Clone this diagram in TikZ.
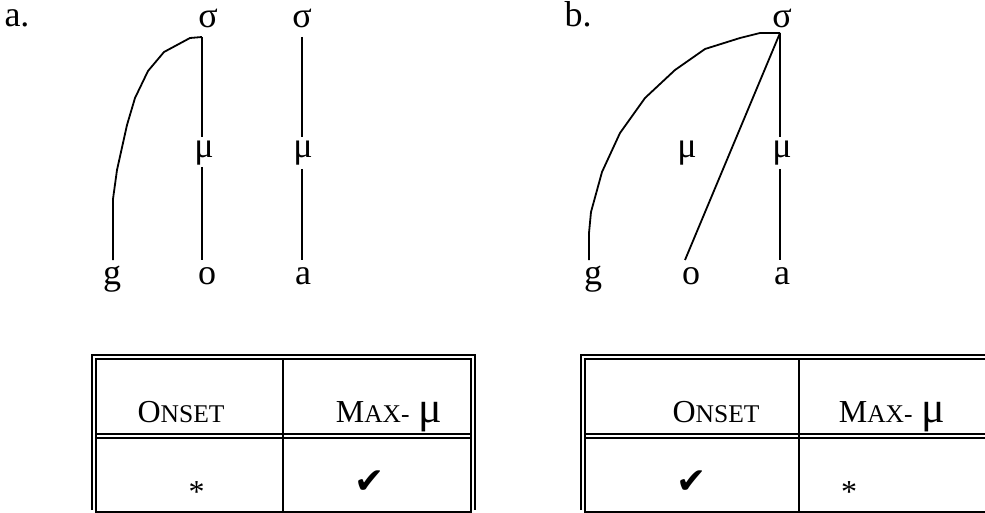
\documentclass[tikz,border=0pt]{standalone}
\usepackage{fontspec}
\setmainfont{Liberation Serif}
\newfontfamily\symfont{DejaVu Sans}
\newcommand\szTree{\fontsize{36}{42}\selectfont}
\newcommand\szMu{\fontsize{36}{42}\selectfont}
\newcommand\szCap{\fontsize{32}{38}\selectfont}
\newcommand\szSc{\fontsize{25.5}{30}\selectfont}
\newcommand\szTmu{\fontsize{44}{50}\selectfont}
\newcommand\mysc[2]{{\szCap #1\szSc #2}}
\begin{document}
\begin{tikzpicture}[x=1pt,y=-1pt,
  seg/.style={line width=1.8pt,line join=round},
  rule/.style={line width=1.9pt},
  tlab/.style={anchor=base,inner sep=0pt,font=\szTree},
  mlab/.style={anchor=base,inner sep=0pt,font=\szMu},
  cell/.style={anchor=base,inner sep=0pt},
  chk/.style={anchor=base,inner sep=0pt,font=\symfont\fontsize{36}{42}\selectfont}]
\useasboundingbox (0,0) rectangle (985,513);

% ---------- tree a ----------
\node[tlab] (la) at (17,27) {a.};
\node[tlab] (sA1) at (208,28) {σ};
\node[tlab] (sA2) at (302,28) {σ};
\node[mlab] (mA1) at (204,158) {μ};
\node[mlab] (mA2) at (303,158) {μ};
\node[tlab] (gA) at (112,284) {g};
\node[tlab] (oA) at (207,284) {o};
\node[tlab] (aA) at (303,284) {a};

\coordinate (sA1b) at (202,37);
\coordinate (mA1t) at (202,137);
\coordinate (mA1b) at (202,167);
\coordinate (oAt) at (202,260);
\coordinate (sA2b) at (302,37);
\coordinate (mA2t) at (302,137);
\coordinate (mA2b) at (302,169);
\coordinate (aAt) at (302,260);
\coordinate (gAt) at (113,260);

\draw[seg] (sA1b) -- (mA1t);
\draw[seg] (mA1b) -- (oAt);
\draw[seg] (sA2b) -- (mA2t);
\draw[seg] (mA2b) -- (aAt);
\draw[seg] (gAt) -- (113,199) -- (117,170) -- (127,125) -- (135,98) -- (148,71)
  -- (164,52) -- (190,38) -- (sA1b);

% ---------- tree b ----------
\node[tlab] (lb) at (578,27) {b.};
\node[tlab] (sB) at (782,28) {σ};
\node[mlab] (mB1) at (687,158) {μ};
\node[mlab] (mB2) at (782,158) {μ};
\node[tlab] (gB) at (593,284) {g};
\node[tlab] (oB) at (691,284) {o};
\node[tlab] (aB) at (782,284) {a};

\coordinate (apex) at (780,33);
\coordinate (mB2t) at (780,137);
\coordinate (mB2b) at (780,169);
\coordinate (aBt) at (780,260);
\coordinate (oBt) at (685,260);
\coordinate (gBt) at (589,260);

\draw[seg] (apex) -- (mB2t);
\draw[seg] (mB2b) -- (aBt);
\draw[seg] (apex) -- (oBt);
\draw[seg] (gBt) -- (589,233) -- (591,212) -- (602,172) -- (620,133) -- (645,98)
  -- (675,70) -- (705,49) -- (740,38) -- (760,33) -- (apex);

% ---------- table a ----------
\draw[rule] (92,510) -- (92,355) -- (475,355) -- (475,510);
\draw[rule] (96,512) -- (96,359) -- (471,359) -- (471,512) -- cycle;
\draw[rule] (283,359) -- (283,512);
\draw[rule] (96,434) -- (471,434);
\draw[rule] (96,438) -- (471,438);
\node[cell] (onsetA) at (181,422) {\mysc{O}{NSET}};
\node[cell] (maxA) at (389,422) {\mysc{M}{AX-}\hspace{9pt}{\szTmu μ}};
\node[cell] (starA) at (196.5,502) {\szCap *};
\node[chk] (checkA) at (370,493) {✔};

% ---------- table b ----------
\draw[rule] (581,510) -- (581,355) -- (985,355);
\draw[rule] (985,359) -- (585,359) -- (585,512) -- (985,512);
\draw[rule] (799,359) -- (799,512);
\draw[rule] (585,434) -- (985,434);
\draw[rule] (585,438) -- (985,438);
\node[cell] (onsetB) at (716,422) {\mysc{O}{NSET}};
\node[cell] (maxB) at (892,422) {\mysc{M}{AX-}\hspace{9pt}{\szTmu μ}};
\node[chk] (checkB) at (692,493) {✔};
\node[cell] (starB) at (849,502) {\szCap *};
\end{tikzpicture}
\end{document}
